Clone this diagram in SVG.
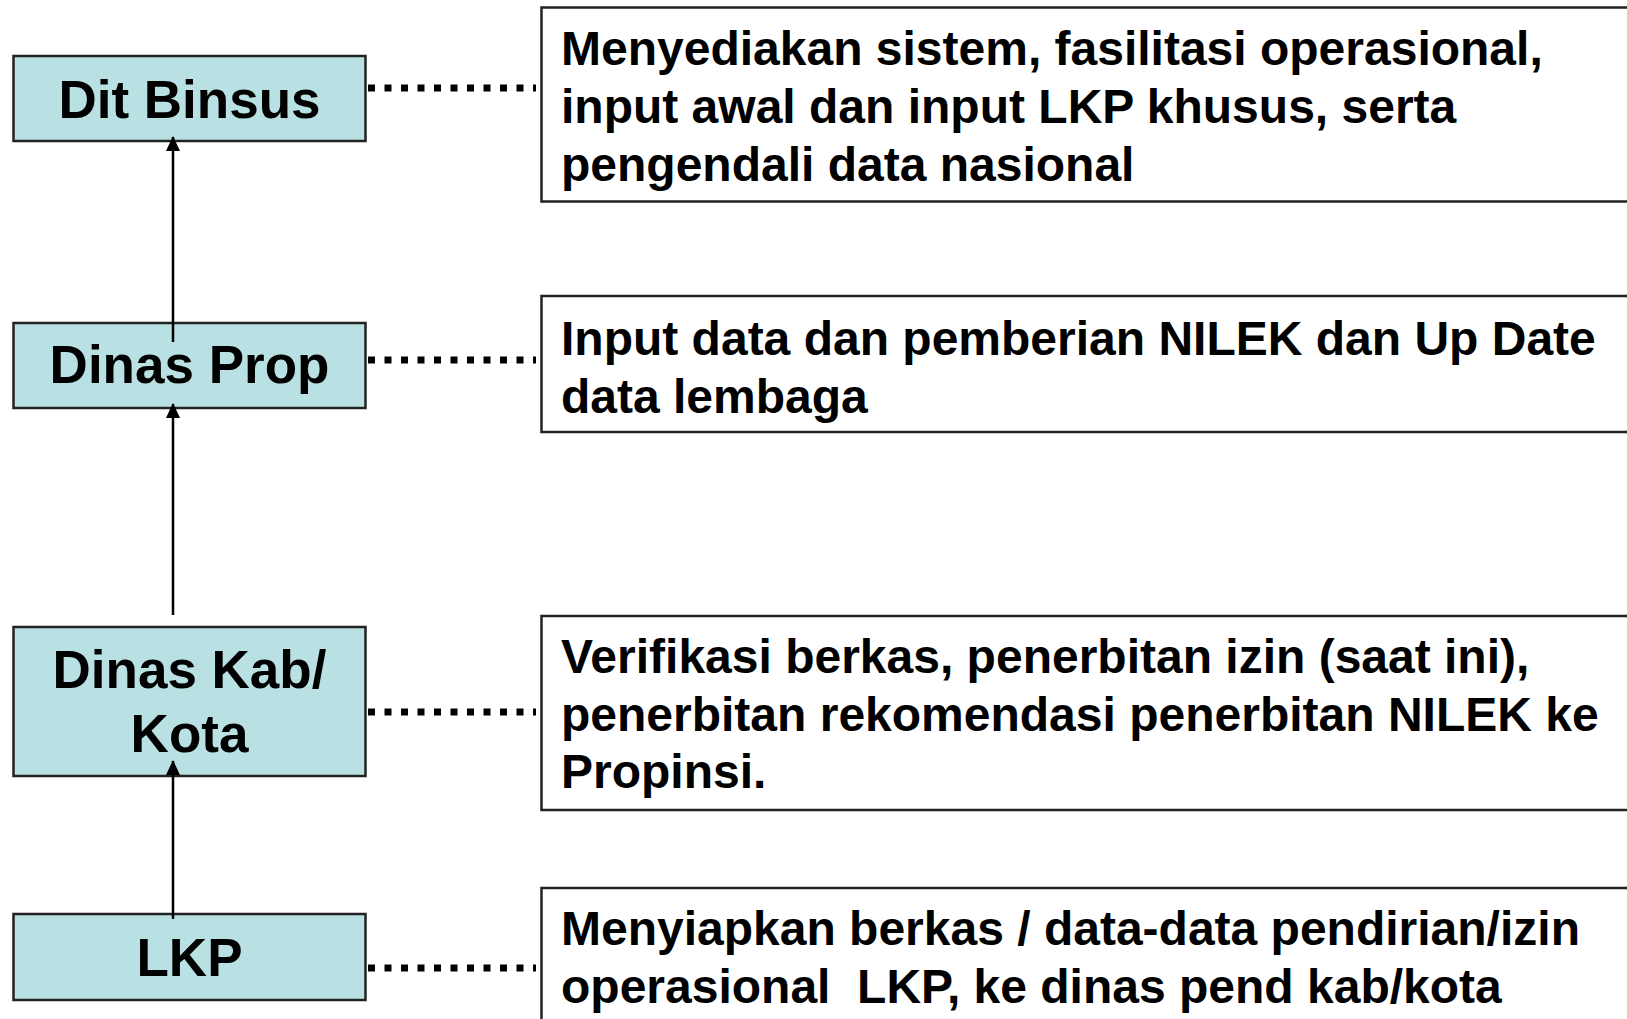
<svg xmlns="http://www.w3.org/2000/svg" width="1627" height="1019" viewBox="0 0 1627 1019">
<style>
.node{fill:#b9e0e3;stroke:#222;stroke-width:2.5}
.desc{fill:#fff;stroke:#222;stroke-width:2.5}
.lbl{font-family:"Liberation Sans",Arial,sans-serif;font-weight:bold;font-size:53px;fill:#000;text-anchor:middle}
.txt{font-family:"Liberation Sans",Arial,sans-serif;font-weight:bold;font-size:48px;fill:#000}
.dot{stroke:#000;stroke-width:7;stroke-dasharray:7 9.5;fill:none}
.arr{stroke:#000;stroke-width:2.5;fill:none;marker-end:url(#ah)}
</style>
<defs>
<marker id="ah" markerWidth="15" markerHeight="14" refX="14" refY="7" orient="auto" markerUnits="userSpaceOnUse" viewBox="0 0 15 14">
<path d="M0 0 L15 7 L0 14 Z" fill="#000"/>
</marker>
</defs>
<rect width="1627" height="1019" fill="#fff"/>
<g id="connectors">
<line class="dot" x1="368" y1="88" x2="536" y2="88"/>
<line class="dot" x1="368" y1="360" x2="536" y2="360"/>
<line class="dot" x1="368" y1="712" x2="536" y2="712"/>
<line class="dot" x1="368" y1="968" x2="536" y2="968"/>
</g>
<g id="node-dit-binsus">
<rect class="node" x="13.5" y="56" width="352" height="85"/>
<text class="lbl" x="189.5" y="118">Dit Binsus</text>
</g>
<g id="node-dinas-prop">
<rect class="node" x="13.5" y="323" width="352" height="85"/>
<text class="lbl" x="189.5" y="383">Dinas Prop</text>
</g>
<g id="node-dinas-kab">
<rect class="node" x="13.5" y="627" width="352" height="149"/>
<text class="lbl" x="189.5" y="688">Dinas Kab/</text>
<text class="lbl" x="189.5" y="752">Kota</text>
</g>
<g id="node-lkp">
<rect class="node" x="13.5" y="914" width="352" height="86"/>
<text class="lbl" x="189.5" y="976">LKP</text>
</g>
<g id="arrows">
<line class="arr" x1="173" y1="342" x2="173" y2="137"/>
<line class="arr" x1="173" y1="615" x2="173" y2="404"/>
<line class="arr" x1="173" y1="919" x2="173" y2="761"/>
</g>
<g id="desc-dit-binsus">
<rect class="desc" x="541.5" y="7.5" width="1100" height="194"/>
<text class="txt" x="561" y="65">Menyediakan sistem, fasilitasi operasional,</text>
<text class="txt" x="561" y="123">input awal dan input LKP khusus, serta</text>
<text class="txt" x="561" y="181">pengendali data nasional</text>
</g>
<g id="desc-dinas-prop">
<rect class="desc" x="541.5" y="296" width="1100" height="136"/>
<text class="txt" x="561" y="355">Input data dan pemberian NILEK dan Up Date</text>
<text class="txt" x="561" y="413">data lembaga</text>
</g>
<g id="desc-dinas-kab">
<rect class="desc" x="541.5" y="616" width="1100" height="194"/>
<text class="txt" x="561" y="673">Verifikasi berkas, penerbitan izin (saat ini),</text>
<text class="txt" x="561" y="731">penerbitan rekomendasi penerbitan NILEK ke</text>
<text class="txt" x="561" y="788">Propinsi.</text>
</g>
<g id="desc-lkp">
<rect class="desc" x="541.5" y="888" width="1100" height="150"/>
<text class="txt" x="561" y="945">Menyiapkan berkas / data-data pendirian/izin</text>
<text class="txt" x="561" y="1003" xml:space="preserve">operasional  LKP, ke dinas pend kab/kota</text>
</g>
</svg>
